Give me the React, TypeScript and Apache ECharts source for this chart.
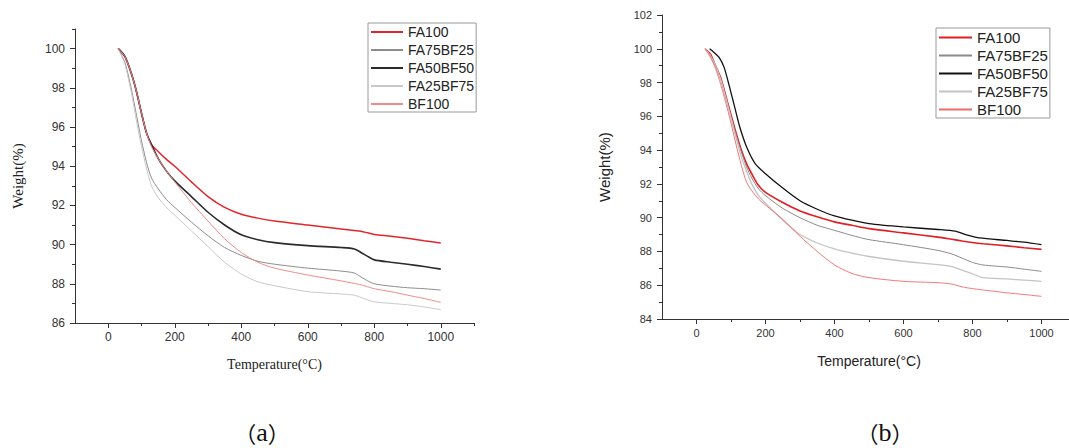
import React, { useEffect, useRef } from "react";
import * as echarts from "echarts";

// ---------- Chart (a) ----------
const tempsA = [30, 50, 70, 85, 100, 115, 130, 150, 175, 200, 250, 300, 350, 400, 450, 500, 600, 700, 740, 760, 780, 800, 850, 900, 950, 1000];
const fa100A = [100, 99.6, 98.7, 97.8, 96.7, 95.7, 95.1, 94.75, 94.35, 94.0, 93.2, 92.45, 91.9, 91.55, 91.35, 91.2, 91.0, 90.8, 90.72, 90.68, 90.6, 90.52, 90.43, 90.32, 90.2, 90.08];
const fa75bf25A = [100, 99.3, 97.9, 96.6, 95.3, 94.2, 93.4, 92.85, 92.3, 91.9, 91.15, 90.45, 89.85, 89.45, 89.15, 89.0, 88.8, 88.65, 88.55, 88.35, 88.15, 88.0, 87.88, 87.8, 87.75, 87.68];
const fa50bf50A = [100, 99.6, 98.7, 97.8, 96.7, 95.7, 95.1, 94.4, 93.75, 93.25, 92.45, 91.65, 91.0, 90.5, 90.25, 90.1, 89.95, 89.85, 89.78, 89.6, 89.4, 89.22, 89.1, 89.0, 88.88, 88.75];
const fa25bf75A = [100, 99.2, 97.7, 96.3, 95.0, 93.9, 93.0, 92.4, 91.9, 91.5, 90.7, 89.9, 89.1, 88.5, 88.1, 87.9, 87.6, 87.48, 87.42, 87.3, 87.18, 87.08, 87.0, 86.93, 86.82, 86.68];
const bf100A = [100, 99.6, 98.7, 97.8, 96.7, 95.7, 95.0, 94.4, 93.75, 93.2, 92.15, 91.2, 90.3, 89.6, 89.1, 88.8, 88.45, 88.15, 88.02, 87.95, 87.85, 87.75, 87.6, 87.42, 87.25, 87.05];

// ---------- Chart (b) ----------
const tempsB = [25, 40, 55, 70, 85, 100, 115, 130, 145, 160, 180, 200, 250, 300, 350, 400, 450, 500, 600, 700, 740, 770, 800, 830, 900, 950, 1000];
const fa100B = [100, 99.7, 99.0, 98.3, 97.2, 96.1, 95.0, 94.0, 93.2, 92.6, 91.9, 91.5, 90.9, 90.4, 90.05, 89.75, 89.55, 89.35, 89.1, 88.85, 88.72, 88.62, 88.53, 88.46, 88.33, 88.22, 88.12];
const fa75bf25B = [100, 99.6, 99.0, 98.2, 97.1, 96.0, 94.9, 93.9, 93.0, 92.35, 91.7, 91.3, 90.55, 90.0, 89.55, 89.25, 88.95, 88.7, 88.4, 88.06, 87.85, 87.6, 87.35, 87.2, 87.08, 86.95, 86.82];
const fa25bf75B = [100, 99.6, 99.0, 98.2, 97.1, 95.9, 94.7, 93.6, 92.75, 92.0, 91.3, 90.85, 89.85, 89.0, 88.5, 88.15, 87.9, 87.7, 87.42, 87.22, 87.1, 86.9, 86.68, 86.45, 86.37, 86.3, 86.23];
const bf100B = [100, 99.5, 98.85, 97.9, 96.8, 95.6, 94.3, 93.1, 92.1, 91.6, 91.1, 90.75, 89.9, 88.9, 88.0, 87.2, 86.7, 86.45, 86.23, 86.15, 86.07, 85.9, 85.8, 85.72, 85.55, 85.45, 85.34];
const tempsBlackB = [38, 50, 65, 80, 95, 110, 125, 145, 170, 200, 250, 300, 350, 400, 450, 500, 600, 700, 750, 780, 820, 900, 950, 1000];
const fa50bf50B = [100, 99.8, 99.5, 98.9, 97.8, 96.6, 95.4, 94.2, 93.2, 92.6, 91.75, 91.0, 90.5, 90.1, 89.85, 89.65, 89.45, 89.3, 89.2, 89.0, 88.8, 88.65, 88.55, 88.4];

const seriesNames = ["FA100", "FA75BF25", "FA50BF50", "FA25BF75", "BF100"];
const xMajorTicks = [0, 200, 400, 600, 800, 1000];
const xMinorTicks = [100, 300, 500, 700, 900, 1100];
const yMajorTicksA = [86, 88, 90, 92, 94, 96, 98, 100];
const yMinorTicksA = [87, 89, 91, 93, 95, 97, 99, 101];

const stylesA = [
  { color: "#e3262b", width: 1.5 },
  { color: "#8c8c8c", width: 1 },
  { color: "#2b2b2b", width: 1.6 },
  { color: "#c8c8c8", width: 1 },
  { color: "#f28a8a", width: 1 },
];
const stylesB = [
  { color: "#e01e24", width: 1.6 },
  { color: "#8a8a8a", width: 1 },
  { color: "#111111", width: 1.3 },
  { color: "#c4c4c4", width: 1.3 },
  { color: "#f06a6a", width: 0.9 },
];

const zip = (xs: number[], ys: number[]) => xs.map((x, i) => [x, ys[i]]);

const axisColor = "#333";
const sans = "Arial, Liberation Sans, sans-serif";
const serif = "Times New Roman, Liberation Serif, serif";
const plain = (v: number) => String(v);
const prefixA = "a:";
const prefixB = "b:";

export default function App() {
  const ref = useRef<HTMLDivElement>(null);
  useEffect(() => {
    if (!ref.current) return;
    const chart = echarts.init(ref.current, null, { renderer: "svg" });

    const majorX = (grid: number, fontSize: number, nameFont: string, nameSize: number, gap: number) => ({
      type: "value",
      gridIndex: grid,
      min: -100,
      max: 1100,
      name: "Temperature(°C)",
      nameLocation: "middle",
      nameGap: gap,
      nameTextStyle: { fontFamily: nameFont, fontSize: nameSize, color: "#222" },
      axisLine: { show: true, onZero: false, lineStyle: { color: axisColor, width: 1 } },
      axisTick: { show: true, inside: false, length: 5, customValues: xMajorTicks, lineStyle: { color: axisColor } },
      axisLabel: { show: true, customValues: xMajorTicks, formatter: plain, margin: 8, fontSize, fontFamily: sans, color: "#333" },
      splitLine: { show: false },
    });
    const minorX = (grid: number) => ({
      type: "value",
      gridIndex: grid,
      min: -100,
      max: 1100,
      position: "bottom",
      axisLine: { show: false, onZero: false },
      axisTick: { show: true, inside: false, length: 3, customValues: xMinorTicks, lineStyle: { color: axisColor } },
      axisLabel: { show: false, customValues: xMinorTicks },
      splitLine: { show: false },
    });

    const lineSeries = (name: string, data: number[][], st: any, xi: number, yi: number) => ({
      type: "line",
      name,
      data,
      xAxisIndex: xi,
      yAxisIndex: yi,
      showSymbol: false,
      symbol: "none",
      smooth: 0.25,
      color: st.color,
      lineStyle: { color: st.color, width: st.width },
      itemStyle: { color: st.color },
    });

    const dataB = [
      zip(tempsB, fa100B),
      zip(tempsB, fa75bf25B),
      zip(tempsBlackB, fa50bf50B),
      zip(tempsB, fa25bf75B),
      zip(tempsB, bf100B),
    ];
    const dataA = [fa100A, fa75bf25A, fa50bf50A, fa25bf75A, bf100A].map((w) => zip(tempsA, w));

    const legend = (prefix: string, left: number, top: number, fontSize: number, itemW: number, itemH: number, gap: number) => ({
      show: true,
      orient: "vertical",
      left,
      top,
      itemWidth: itemW,
      itemHeight: itemH,
      itemGap: gap,
      padding: [2, 2, 1, 2],
      borderColor: "#999",
      borderWidth: 1,
      selectedMode: false,
      formatter: (name: string) => name.slice(prefix.length),
      textStyle: { fontFamily: sans, fontSize, color: "#222" },
      data: seriesNames.map((n) => ({
        name: prefix + n,
        itemStyle: { opacity: 0 },
      })),
    });

    const caption = (x: number, letter: string) => ({
      type: "text",
      x,
      y: 432,
      style: {
        text: "{p|（}{a|" + letter + "}{p|）}",
        align: "center",
        verticalAlign: "middle",
        fill: "#111",
        rich: {
          p: { fontFamily: "Noto Sans CJK SC", fontSize: 22, fill: "#111" },
          a: { fontFamily: serif, fontSize: 26, fill: "#111" },
        },
      },
    });

    chart.setOption({
      animation: false,
      backgroundColor: "#fff",
      grid: [
        { left: 75, top: 29, width: 399, height: 294, outerBoundsMode: "none", containLabel: false },
        { left: 662, top: 15, width: 414, height: 304, outerBoundsMode: "none", containLabel: false },
      ],
      xAxis: [
        majorX(0, 12, serif, 14, 34),
        minorX(0),
        majorX(1, 11, sans, 14, 35),
        minorX(1),
      ],
      yAxis: [
        {
          type: "value",
          gridIndex: 0,
          min: 86,
          max: 101,
          name: "Weight(%)",
          nameLocation: "middle",
          nameGap: 50,
          nameTextStyle: { fontFamily: serif, fontSize: 15, color: "#222" },
          axisLine: { show: true, onZero: false, lineStyle: { color: axisColor, width: 1 } },
          axisTick: { show: true, inside: false, length: 5, customValues: yMajorTicksA, lineStyle: { color: axisColor } },
          axisLabel: { show: true, customValues: yMajorTicksA, formatter: plain, margin: 10, fontSize: 12, fontFamily: sans, color: "#333" },
          splitLine: { show: false },
        },
        {
          type: "value",
          gridIndex: 0,
          min: 86,
          max: 101,
          position: "left",
          axisLine: { show: false, onZero: false },
          axisTick: { show: true, inside: false, length: 3, customValues: yMinorTicksA, lineStyle: { color: axisColor } },
          axisLabel: { show: false, customValues: yMinorTicksA },
          splitLine: { show: false },
        },
        {
          type: "value",
          gridIndex: 1,
          min: 84,
          max: 102,
          interval: 2,
          name: "Weight(%)",
          nameLocation: "middle",
          nameGap: 50,
          nameTextStyle: { fontFamily: sans, fontSize: 15, color: "#222" },
          axisLine: { show: true, onZero: false, lineStyle: { color: axisColor, width: 1 } },
          axisTick: { show: true, inside: false, length: 5, lineStyle: { color: axisColor } },
          minorTick: { show: true, splitNumber: 2, length: 3, lineStyle: { color: axisColor } },
          axisLabel: { show: true, formatter: plain, margin: 10, fontSize: 11, fontFamily: sans, color: "#333" },
          splitLine: { show: false },
          minorSplitLine: { show: false },
        },
      ],
      legend: [
        legend(prefixA, 368, 23, 14, 32, 14, 4),
        legend(prefixB, 936, 28, 15, 33, 15, 3),
      ],
      series: [
        ...seriesNames.map((n, i) => lineSeries(prefixA + n, dataA[i], stylesA[i], 0, 0)),
        ...seriesNames.map((n, i) => lineSeries(prefixB + n, dataB[i], stylesB[i], 2, 2)),
      ],
      graphic: [caption(262, "a"), caption(885, "b")],
    });
    return () => chart.dispose();
  }, []);

  return (
    <div style={{ position: "absolute", left: 0, top: 0, width: 1069, height: 448, overflow: "hidden", background: "#fff" }}>
      <div ref={ref} style={{ width: 1080, height: 448 }} />
    </div>
  );
}
